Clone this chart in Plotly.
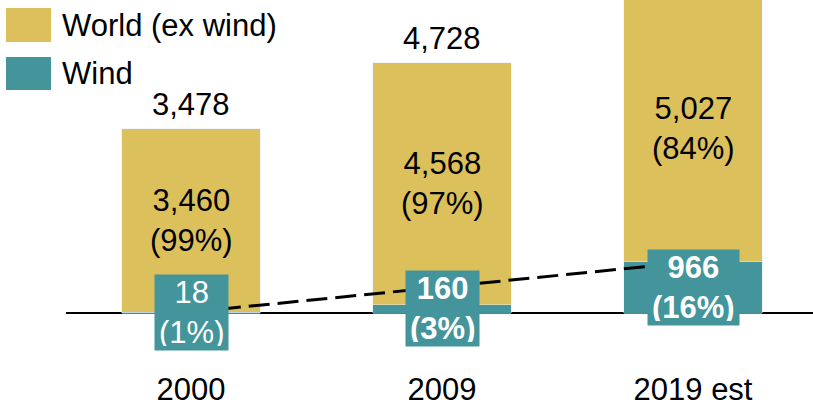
import plotly.graph_objects as go

categories = ["2000", "2009", "2019 est"]
world_ex_wind = [3460, 4568, 5027]
wind = [18, 160, 966]
world_pct = ["99%", "97%", "84%"]
wind_pct = ["1%", "3%", "16%"]
wind_bold = [False, True, True]
show_total = [True, True, False]

GOLD = "#DCC05B"
TEAL = "#43959B"
FONT = "Liberation Sans, Arial, sans-serif"
FS = 31

totals = [a + b for a, b in zip(world_ex_wind, wind)]

fig = go.Figure()
fig.add_trace(go.Bar(x=categories, y=wind, marker_color=TEAL, name="Wind",
                     width=0.55, showlegend=False))
fig.add_trace(go.Bar(x=categories, y=world_ex_wind, marker_color=GOLD,
                     name="World (ex wind)", width=0.55, showlegend=False))
# dashed trend line between first and last wind values
fig.add_trace(go.Scatter(x=[categories[0], categories[-1]], y=[wind[0], wind[-1]],
                         mode="lines", line=dict(color="black", width=3, dash="21px,8px"),
                         showlegend=False, hoverinfo="skip"))

annotations = []
for i, c in enumerate(categories):
    # world label centered in gold segment
    annotations.append(dict(x=i, y=wind[i] + world_ex_wind[i] / 2, xref="x", yref="y",
                            text=f"{world_ex_wind[i]:,}<br>({world_pct[i]})",
                            showarrow=False, font=dict(size=FS, color="black", family=FONT)))
    # totals
    if show_total[i]:
        annotations.append(dict(x=i, y=totals[i], xref="x", yref="y", yanchor="bottom",
                                yshift=5, text=f"{totals[i]:,}", showarrow=False,
                                font=dict(size=FS, color="black", family=FONT)))
    # wind label box
    t = f"{wind[i]:,}<br>({wind_pct[i]})"
    if wind_bold[i]:
        t = f"<b>{wind[i]:,}</b><br><b>({wind_pct[i]})</b>"
    annotations.append(dict(x=i, y=wind[i] / 2, xref="x", yref="y", text=t,
                            showarrow=False, bgcolor=TEAL, borderpad=4, height=67,
                            font=dict(size=FS, color="white", family=FONT)))

# legend (manual, large swatches)
W, H = 813, 360
shapes = [
    dict(type="rect", xref="paper", yref="paper", x0=6 / W, x1=51 / W,
         y0=1 - 42 / H, y1=1 - 8 / H, fillcolor=GOLD, line=dict(width=0)),
    dict(type="rect", xref="paper", yref="paper", x0=6 / W, x1=51 / W,
         y0=1 - 90 / H, y1=1 - 57 / H, fillcolor=TEAL, line=dict(width=0)),
]
annotations.append(dict(x=60 / W, y=1 - 26 / H, xref="paper", yref="paper",
                        xanchor="left", yanchor="middle",
                        text="World (ex wind)", showarrow=False,
                        font=dict(size=FS, color="black", family=FONT)))
annotations.append(dict(x=60 / W, y=1 - 74 / H, xref="paper", yref="paper",
                        xanchor="left", yanchor="middle",
                        text="Wind", showarrow=False,
                        font=dict(size=FS, color="black", family=FONT)))

fig.update_layout(
    width=813, height=407,
    margin=dict(l=0, r=0, t=0, b=47),
    barmode="stack",
    plot_bgcolor="white", paper_bgcolor="white",
    annotations=annotations, shapes=shapes,
    font=dict(family=FONT, size=FS, color="black"),
    xaxis=dict(domain=[66 / W, 1], range=[-0.498, 2.478], showgrid=False, showline=False,
               ticks="outside", ticklen=2, tickcolor="white", automargin=False,
               tickfont=dict(size=FS, color="black", family=FONT)),
    yaxis=dict(range=[-888, 5916], showgrid=False, showticklabels=False, automargin=False,
               zeroline=True, zerolinecolor="black", zerolinewidth=2),
)

fig.write_html("out.html", config={"displayModeBar": False},
               post_script="document.body.style.margin='0';document.body.style.overflow='hidden';")
